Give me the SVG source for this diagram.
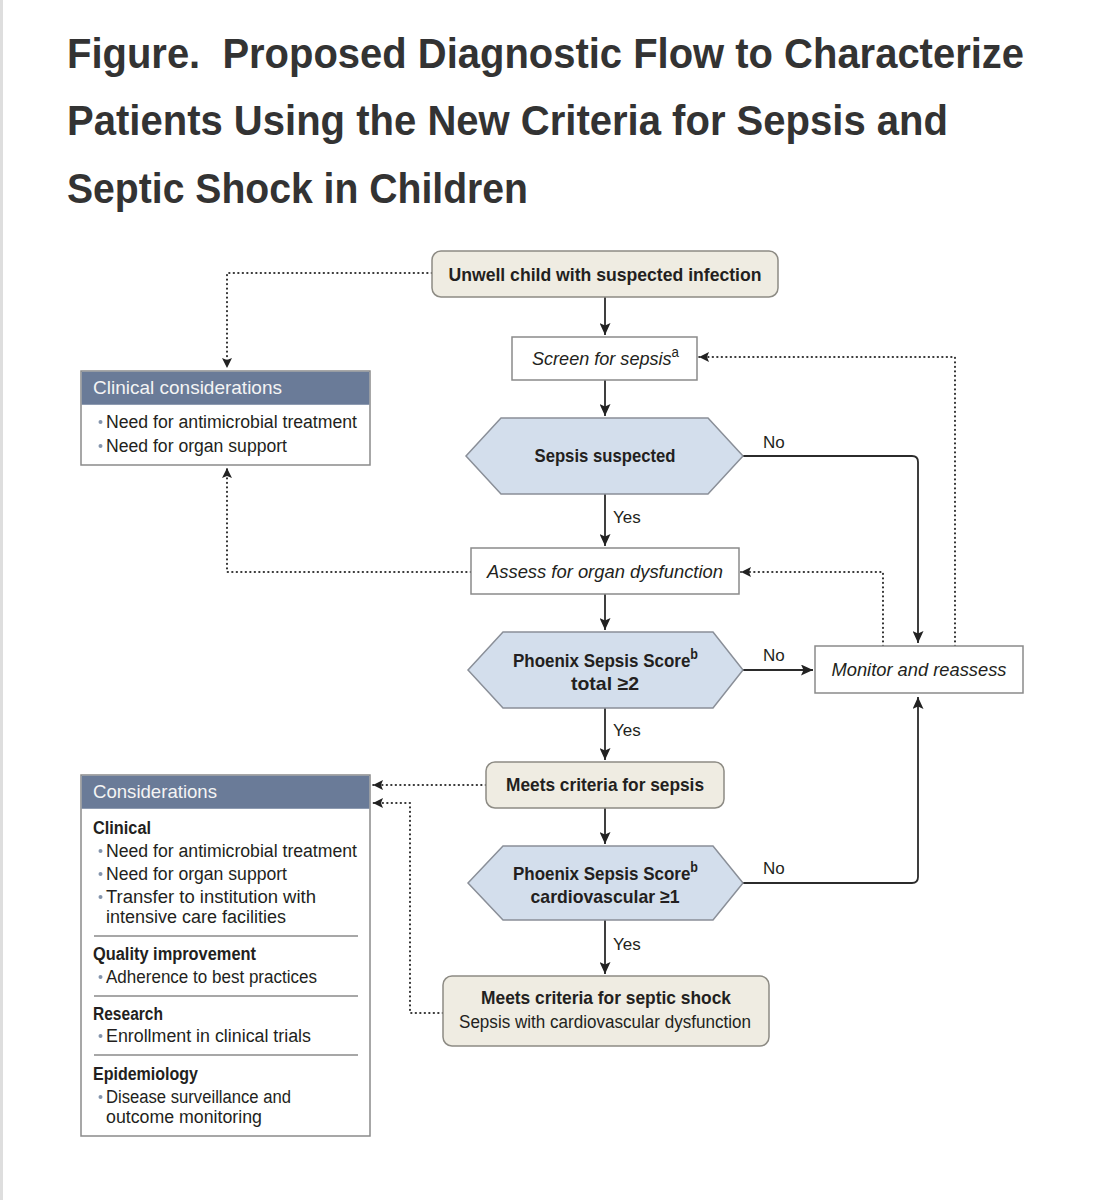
<svg xmlns="http://www.w3.org/2000/svg" width="1101" height="1200" viewBox="0 0 1101 1200">
<style>
.t{font-family:"Liberation Sans",Arial,sans-serif;fill:#231f20}
.title{font-size:42px;font-weight:bold;fill:#333}
.b{font-weight:bold;font-size:19px}
.r{font-size:18px}
.i{font-style:italic;font-size:19px}
.sup{font-size:14px;font-style:normal}
.lbl{font-size:17px}
.hdr{font-size:19px;fill:#f4f4f4}
.box{fill:#fff;stroke:#8a8a8a;stroke-width:1.5}
.beige{fill:#efece2;stroke:#8d8b84;stroke-width:1.5}
.hex{fill:#d3deec;stroke:#8a8f98;stroke-width:1.5}
.head{fill:#6a7b98}
.sep{stroke:#8a8a8a;stroke-width:1.5}
.dot{fill:#8494ac}
.solid{fill:none;stroke:#2b2b2b;stroke-width:1.8}
.dotted{fill:none;stroke:#333;stroke-width:2.1;stroke-linecap:round;stroke-dasharray:0.3 4.2}
</style>
<defs>
<marker id="arr" markerUnits="userSpaceOnUse" markerWidth="13" markerHeight="11" refX="12" refY="5.5" orient="auto">
<path d="M0,0 L12,5.5 L0,11 L2.5,5.5 Z" fill="#222"/>
</marker>
<marker id="darr" markerUnits="userSpaceOnUse" markerWidth="11" markerHeight="10" refX="10" refY="5" orient="auto">
<path d="M0,0 L10,5 L0,10 L2,5 Z" fill="#222"/>
</marker>
</defs>
<rect x="0" y="0" width="1101" height="1200" fill="#fff"/>
<rect x="0" y="0" width="3" height="1200" fill="#dedede"/>

<g id="title">
<text class="t title" x="67" y="68" textLength="957" lengthAdjust="spacingAndGlyphs">Figure.&#160; Proposed Diagnostic Flow to Characterize</text>
<text class="t title" x="67" y="135" textLength="881" lengthAdjust="spacingAndGlyphs">Patients Using the New Criteria for Sepsis and</text>
<text class="t title" x="67" y="203" textLength="461" lengthAdjust="spacingAndGlyphs">Septic Shock in Children</text>
</g>

<g id="connectors">
<path class="solid" d="M605,297 V335" marker-end="url(#arr)"/>
<path class="solid" d="M605,380 V416" marker-end="url(#arr)"/>
<path class="solid" d="M605,494 V546" marker-end="url(#arr)"/>
<path class="solid" d="M605,594 V630" marker-end="url(#arr)"/>
<path class="solid" d="M605,708 V760" marker-end="url(#arr)"/>
<path class="solid" d="M605,808 V844" marker-end="url(#arr)"/>
<path class="solid" d="M605,920 V974" marker-end="url(#arr)"/>
<path class="solid" d="M743,456 H912 Q918,456 918,462 V643" marker-end="url(#arr)"/>
<path class="solid" d="M743,670 H813" marker-end="url(#arr)"/>
<path class="solid" d="M743,883 H912 Q918,883 918,877 V697" marker-end="url(#arr)"/>
<path class="dotted" d="M432,273 H227 V368" marker-end="url(#darr)"/>
<path class="dotted" d="M471,572 H227 V468" marker-end="url(#darr)"/>
<path class="dotted" d="M883,646 V572 H741" marker-end="url(#darr)"/>
<path class="dotted" d="M955,646 V357 H699" marker-end="url(#darr)"/>
<path class="dotted" d="M486,785 H373" marker-end="url(#darr)"/>
<path class="dotted" d="M443,1013 H410 V803 H373" marker-end="url(#darr)"/>
<text class="t lbl" x="613" y="523">Yes</text>
<text class="t lbl" x="613" y="736">Yes</text>
<text class="t lbl" x="613" y="950">Yes</text>
<text class="t lbl" x="763" y="448">No</text>
<text class="t lbl" x="763" y="661">No</text>
<text class="t lbl" x="763" y="874">No</text>
</g>

<g id="unwell">
<rect class="beige" x="432" y="251" width="346" height="46" rx="9"/>
<text class="t b" x="605" y="281" text-anchor="middle" textLength="313" lengthAdjust="spacingAndGlyphs">Unwell child with suspected infection</text>
</g>

<g id="screen">
<rect class="box" x="512" y="337" width="185" height="43"/>
<text class="t i" x="532" y="365" textLength="147" lengthAdjust="spacingAndGlyphs">Screen for sepsis<tspan class="sup" dy="-8">a</tspan></text>
</g>

<g id="sepsis-suspected">
<polygon class="hex" points="466,456 501,418 708,418 743,456 708,494 501,494"/>
<text class="t b" x="605" y="462" text-anchor="middle" textLength="141" lengthAdjust="spacingAndGlyphs">Sepsis suspected</text>
</g>

<g id="assess">
<rect class="box" x="471" y="548" width="268" height="46"/>
<text class="t i" x="605" y="578" text-anchor="middle" textLength="236" lengthAdjust="spacingAndGlyphs">Assess for organ dysfunction</text>
</g>

<g id="phoenix-total">
<polygon class="hex" points="468,670 503,632 713,632 743,670 713,708 503,708"/>
<text class="t b" x="513" y="667" textLength="185" lengthAdjust="spacingAndGlyphs">Phoenix Sepsis Score<tspan class="sup" dy="-8">b</tspan></text>
<text class="t b" x="605" y="690" text-anchor="middle" textLength="68" lengthAdjust="spacingAndGlyphs">total ≥2</text>
</g>

<g id="monitor">
<rect class="box" x="815" y="646" width="208" height="47"/>
<text class="t i" x="919" y="676" text-anchor="middle" textLength="175" lengthAdjust="spacingAndGlyphs">Monitor and reassess</text>
</g>

<g id="meets-sepsis">
<rect class="beige" x="486" y="762" width="238" height="46" rx="9"/>
<text class="t b" x="605" y="791" text-anchor="middle" textLength="198" lengthAdjust="spacingAndGlyphs">Meets criteria for sepsis</text>
</g>

<g id="phoenix-cv">
<polygon class="hex" points="468,883 503,846 713,846 743,883 713,920 503,920"/>
<text class="t b" x="513" y="880" textLength="185" lengthAdjust="spacingAndGlyphs">Phoenix Sepsis Score<tspan class="sup" dy="-8">b</tspan></text>
<text class="t b" x="605" y="903" text-anchor="middle" textLength="149" lengthAdjust="spacingAndGlyphs">cardiovascular ≥1</text>
</g>

<g id="septic-shock">
<rect class="beige" x="443" y="976" width="326" height="70" rx="9"/>
<text class="t b" x="606" y="1004" text-anchor="middle" textLength="250" lengthAdjust="spacingAndGlyphs">Meets criteria for septic shock</text>
<text class="t r" x="605" y="1028" text-anchor="middle" textLength="292" lengthAdjust="spacingAndGlyphs">Sepsis with cardiovascular dysfunction</text>
</g>

<g id="clinical-considerations">
<rect class="box" x="81" y="371" width="289" height="94"/>
<rect class="head" x="81.75" y="371.75" width="287.5" height="33"/>
<text class="t hdr" x="93" y="394" textLength="189" lengthAdjust="spacingAndGlyphs">Clinical considerations</text>
<circle class="dot" cx="100.5" cy="422" r="2"/>
<text class="t r" x="106" y="428" textLength="251" lengthAdjust="spacingAndGlyphs">Need for antimicrobial treatment</text>
<circle class="dot" cx="100.5" cy="446" r="2"/>
<text class="t r" x="106" y="452" textLength="181" lengthAdjust="spacingAndGlyphs">Need for organ support</text>
</g>

<g id="considerations">
<rect class="box" x="81" y="775" width="289" height="361"/>
<rect class="head" x="81.75" y="775.75" width="287.5" height="33"/>
<text class="t hdr" x="93" y="798" textLength="124" lengthAdjust="spacingAndGlyphs">Considerations</text>
<text class="t r" x="93" y="834" style="font-weight:600" textLength="58" lengthAdjust="spacingAndGlyphs">Clinical</text>
<circle class="dot" cx="100.5" cy="851" r="2"/>
<text class="t r" x="106" y="857" textLength="251" lengthAdjust="spacingAndGlyphs">Need for antimicrobial treatment</text>
<circle class="dot" cx="100.5" cy="874" r="2"/>
<text class="t r" x="106" y="880" textLength="181" lengthAdjust="spacingAndGlyphs">Need for organ support</text>
<circle class="dot" cx="100.5" cy="897" r="2"/>
<text class="t r" x="106" y="903" textLength="210" lengthAdjust="spacingAndGlyphs">Transfer to institution with</text>
<text class="t r" x="106" y="923" textLength="180" lengthAdjust="spacingAndGlyphs">intensive care facilities</text>
<line class="sep" x1="94" y1="936" x2="358" y2="936"/>
<text class="t r" x="93" y="960" style="font-weight:600" textLength="163" lengthAdjust="spacingAndGlyphs">Quality improvement</text>
<circle class="dot" cx="100.5" cy="977" r="2"/>
<text class="t r" x="106" y="983" textLength="211" lengthAdjust="spacingAndGlyphs">Adherence to best practices</text>
<line class="sep" x1="94" y1="996" x2="358" y2="996"/>
<text class="t r" x="93" y="1020" style="font-weight:600" textLength="70" lengthAdjust="spacingAndGlyphs">Research</text>
<circle class="dot" cx="100.5" cy="1036" r="2"/>
<text class="t r" x="106" y="1042" textLength="205" lengthAdjust="spacingAndGlyphs">Enrollment in clinical trials</text>
<line class="sep" x1="94" y1="1055" x2="358" y2="1055"/>
<text class="t r" x="93" y="1080" style="font-weight:600" textLength="105" lengthAdjust="spacingAndGlyphs">Epidemiology</text>
<circle class="dot" cx="100.5" cy="1097" r="2"/>
<text class="t r" x="106" y="1103" textLength="185" lengthAdjust="spacingAndGlyphs">Disease surveillance and</text>
<text class="t r" x="106" y="1123" textLength="156" lengthAdjust="spacingAndGlyphs">outcome monitoring</text>
</g>
</svg>
